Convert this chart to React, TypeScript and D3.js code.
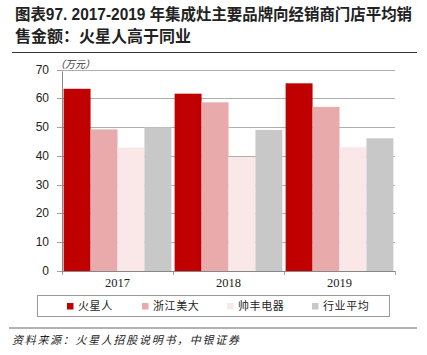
import React from "react";
import * as d3 from "d3";

const years = ["2017", "2018", "2019"];
const seriesNames = ["火星人", "浙江美大", "帅丰电器", "行业平均"];
const seriesColors = ["#C00000", "#E8AAAA", "#F9E8E7", "#C8C8C8"];
const huoxingren = [63.3, 61.6, 65.2];
const meida = [49.2, 58.6, 57.0];
const shuaifeng = [42.9, 39.6, 43.0];
const industry = [49.9, 49.0, 46.1];
const yTicks = [0, 10, 20, 30, 40, 50, 60, 70];

const seriesValues = [huoxingren, meida, shuaifeng, industry];

export default function App() {
  const W = 427, H = 355;
  const left = 62, right = 395, top = 69.5, bottom = 271;
  const x = d3.scaleBand<string>().domain(years).range([left, right]).paddingInner(0).paddingOuter(0);
  const inner = d3.scaleBand<string>().domain(seriesNames).range([0, x.bandwidth()]).paddingOuter(0.06).paddingInner(0);
  const y = d3.scaleLinear().domain([0, 70]).range([bottom, top]);
  const cjk = "'Noto Sans CJK SC', sans-serif";
  const legendX = [67, 142, 227, 312];

  return (
    <div style={{ width: W, height: H, position: "absolute", left: 0, top: 0 }}>
      <svg width={W} height={H} style={{ display: "block" }}>
        <rect width={W} height={H} fill="#fff" />
        <text x={15} y={20} fontFamily={"'Liberation Sans', 'Noto Sans CJK SC', sans-serif"} fontWeight="bold" fontSize={16} fill="#222" textLength={397} lengthAdjust="spacingAndGlyphs">
          图表97. 2017-2019 年集成灶主要品牌向经销商门店平均销
        </text>
        <text x={15} y={42} fontFamily={cjk} fontWeight="bold" fontSize={16} fill="#222">
          售金额：火星人高于同业
        </text>
        <line x1={12} x2={417} y1={52.5} y2={52.5} stroke="#333" strokeWidth={1.2} />

        {yTicks.map((t) => (
          <g key={t}>
            {t > 0 && (
              <line x1={left} x2={right} y1={Math.round(y(t)) + 0.5} y2={Math.round(y(t)) + 0.5} stroke="#9a9a9a" strokeWidth={0.8} />
            )}
            <line x1={left - 5} x2={left} y1={Math.round(y(t)) + 0.5} y2={Math.round(y(t)) + 0.5} stroke="#888" strokeWidth={0.8} />
            <text x={49} y={y(t) + 4} textAnchor="end" fontFamily="'Liberation Sans', Arial, sans-serif" fontSize={12} fill="#222">
              {t}
            </text>
          </g>
        ))}

        {years.map((yr, i) => (
          <g key={yr}>
            {seriesNames.map((s, j) => {
              const v = seriesValues[j][i];
              const bx = (x(yr) as number) + (inner(s) as number);
              return (
                <rect key={s} x={bx} y={y(v)} width={inner.bandwidth()} height={bottom - y(v)} fill={seriesColors[j]} />
              );
            })}
            <text x={(x(yr) as number) + x.bandwidth() / 2} y={287} textAnchor="middle" fontFamily="'Liberation Serif', 'Times New Roman', serif" fontSize={12.5} fill="#222">
              {yr}
            </text>
          </g>
        ))}

        <line x1={left + 0.5} x2={left + 0.5} y1={top + 2} y2={bottom} stroke="#888" strokeWidth={1} />
        <line x1={left} x2={right} y1={bottom + 0.5} y2={bottom + 0.5} stroke="#888" strokeWidth={1} />
        {[...years.map((yr) => x(yr) as number), right].map((tx, i) => (
          <line key={i} x1={tx + 0.5} x2={tx + 0.5} y1={bottom} y2={bottom + 4} stroke="#888" strokeWidth={0.8} />
        ))}

        <text x={55} y={68} fontFamily={cjk} fontStyle="italic" fontSize={10} fill="#333">
          （万元）
        </text>

        <rect x={37.5} y={295.5} width={352} height={21} fill="#fff" stroke="#999" strokeWidth={1} />
        {seriesNames.map((s, j) => (
          <g key={s}>
            <rect x={legendX[j]} y={303} width={6.5} height={6.5} fill={seriesColors[j]} />
            <text x={legendX[j] + 11} y={310} fontFamily={cjk} fontSize={11} letterSpacing={0.6} fill="#222">
              {s}
            </text>
          </g>
        ))}

        <line x1={9} x2={417} y1={328} y2={328} stroke="#666" strokeWidth={1} />
        <text x={12} y={344} fontFamily={cjk} fontStyle="italic" fontSize={11} letterSpacing={1.7} fill="#222">
          资料来源：火星人招股说明书，中银证券
        </text>
      </svg>
    </div>
  );
}
